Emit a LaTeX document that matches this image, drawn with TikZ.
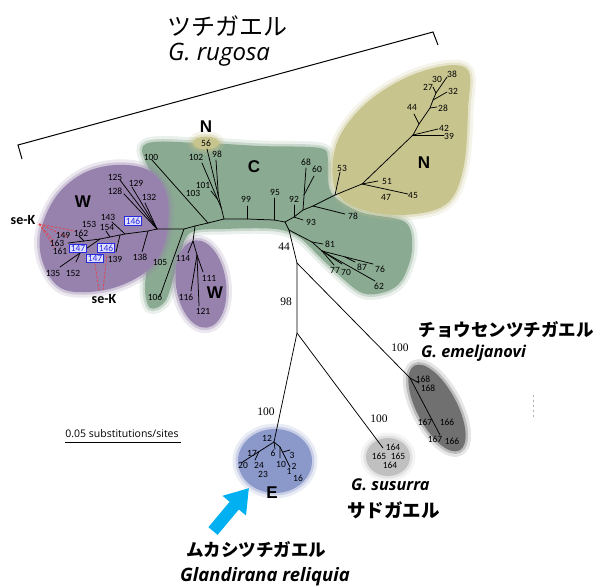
\documentclass[tikz,border=0pt]{standalone}
\usepackage{fontspec}
\setmainfont{Carlito}
\newfontfamily\jp{Noto Sans CJK JP}
\newfontfamily\sern{Liberation Serif}
\newfontfamily\arb{Liberation Sans}
\newfontfamily\ops{Open Sans}
\usetikzlibrary{arrows.meta}
\definecolor{cgreen}{RGB}{138,170,146}
\definecolor{cpurple}{RGB}{150,130,172}
\definecolor{ckhaki}{RGB}{200,196,142}
\definecolor{cblue}{RGB}{138,152,202}
\definecolor{cdark}{RGB}{112,112,112}
\definecolor{clight}{RGB}{192,192,192}
\definecolor{cboxb}{RGB}{40,40,220}
\definecolor{cred}{RGB}{225,70,80}
\definecolor{ccyan}{RGB}{0,176,240}
\tikzset{
  br/.style={line width=0.75pt, black, line cap=round},
  lf/.style={font=\fontsize{9.5}{9.5}\selectfont, inner sep=0pt},
  bs/.style={font=\sern\fontsize{11.5}{12}\selectfont, inner sep=0pt},
  cl/.style={font=\arb\bfseries\fontsize{17}{17}\selectfont, inner sep=0pt},
  bx/.style={lf, draw=cboxb, text=cboxb, fill=white!88!blue, inner sep=1pt, line width=0.6pt},
  sek/.style={cred, dash pattern=on 2.5pt off 1.5pt, line width=0.8pt},
  blob/.style={fill=#1, preaction={draw=#1, draw opacity=0.18, line width=11pt, line join=round},
               preaction={draw=#1, draw opacity=0.35, line width=5pt, line join=round}},
  jpl/.style={font=\jp\bfseries\fontsize{17.5}{18}\selectfont, inner sep=0pt},
  spl/.style={font=\ops\bfseries\itshape\fontsize{16.3}{17}\selectfont, inner sep=0pt},
}
\begin{document}
\begin{tikzpicture}[x=1pt,y=-1pt]
\useasboundingbox (0,0) rectangle (601,586);
% ---------- blobs ----------
\path[blob=cgreen] plot[smooth cycle, tension=0.55] coordinates {
 (143,146) (200,143) (260,146) (320,148) (328,160) (331,192) (360,212) (405,222)
 (412,250) (402,280) (385,292) (360,292) (325,262) (300,238) (275,229) (225,229)
 (190,233) (178,262) (166,300) (150,308) (145,285) (152,240) (160,195)};
\path[blob=cpurple] plot[smooth cycle, tension=0.6] coordinates {
 (45,268) (40,235) (55,198) (82,174) (115,165) (148,170) (166,192) (168,225)
 (160,255) (140,276) (105,290) (65,290)};
\path[blob=cpurple, rotate around={8:(201,284)}] (201,284) ellipse [x radius=25, y radius=44];
\path[blob=ckhaki] plot[smooth cycle, tension=0.6] coordinates {
 (466,68) (468,110) (463,170) (445,205) (400,215) (355,207) (334,185) (338,140)
 (370,100) (420,72)};
\path[blob=ckhaki] (206,143) ellipse [x radius=13, y radius=6.5];
\path[blob=cblue] (275,461) ellipse [x radius=37, y radius=32];
\path[blob=cdark, rotate around={-62:(437,408)}] (437,408) ellipse [x radius=48, y radius=20];
\path[blob=clight] (388,457) ellipse [x radius=22, y radius=19];
% ---------- bracket ----------
\coordinate (bl) at (22,159); \coordinate (blc) at (18,145);
\coordinate (brc) at (433,32); \coordinate (br2) at (438,45);
\draw[line width=1pt] (bl) -- (blc) -- (brc) -- (br2);
% ---------- tree coordinates ----------
\coordinate (A0) at (285,222);
\coordinate (n92) at (294,217); \coordinate (t92) at (294,205); \coordinate (t93) at (303,220);
\coordinate (nR) at (303,210); \coordinate (t68) at (306,168);
\coordinate (n60) at (304,195); \coordinate (t60) at (314,176);
\coordinate (n78) at (313,206); \coordinate (t78) at (345,214);
\coordinate (nN0) at (335,195); \coordinate (t53) at (340,172);
\coordinate (nN1) at (362,184); \coordinate (t51) at (378,181); \coordinate (t45) at (408,194);
\coordinate (nN2) at (413,135); \coordinate (t42) at (438,129); \coordinate (t39) at (444,135);
\coordinate (nN3) at (419,124); \coordinate (t44) at (414,114);
\coordinate (nN4) at (430,108); \coordinate (t28) at (437,107);
\coordinate (nN5) at (433,100); \coordinate (t32) at (447,92);
\coordinate (nN6) at (436,93); \coordinate (t38) at (447,77); \coordinate (t27) at (433,87);
\coordinate (nD) at (289,230); \coordinate (n44) at (297,263); \coordinate (n98) at (297,333);
\coordinate (nE) at (274,442);
\coordinate (nEm) at (410,378); \coordinate (tEm) at (440,435); \coordinate (tEm2) at (419,383);
\coordinate (tS) at (383,448);
\coordinate (n81) at (312,242); \coordinate (t81) at (323,244); \coordinate (n81b) at (322,251);
\coordinate (t62) at (375,281); \coordinate (t76) at (373,264); \coordinate (t77) at (334,265);
\coordinate (t70) at (342,264); \coordinate (n87) at (345,257); \coordinate (t87) at (355,262);
\coordinate (t20) at (241,463); \coordinate (n24) at (259,451.5); \coordinate (t24) at (255,460);
\coordinate (t6) at (275,449); \coordinate (n10) at (280,447); \coordinate (t10) at (280,458);
\coordinate (t1) at (290,467); \coordinate (n3) at (283,452); \coordinate (t3) at (290,450);
\coordinate (n95) at (274,220); \coordinate (t95) at (274,198);
\coordinate (n99) at (247,219); \coordinate (t99) at (247,206);
\coordinate (nC1) at (224,219); \coordinate (t56) at (207,149);
\coordinate (n102) at (221.3,208); \coordinate (t102) at (202,163);
\coordinate (n98c) at (218.4,196); \coordinate (t98) at (216,160);
\coordinate (n101) at (217.4,199); \coordinate (t101) at (211,191);
\coordinate (nC2) at (208,223); \coordinate (t100) at (152,160);
\coordinate (nC3) at (195,226); \coordinate (n114a) at (193,241); \coordinate (n114) at (197,255);
\coordinate (t121) at (199,306); \coordinate (t116) at (191,291); \coordinate (t111) at (203,272);
\coordinate (t114) at (188,253);
\coordinate (nC4) at (184,229); \coordinate (t106) at (160,296);
\coordinate (nW0) at (157,229); \coordinate (t125) at (120,180); \coordinate (t128) at (124,194);
\coordinate (t129) at (132,187); \coordinate (t132) at (145,203);
\coordinate (nW1) at (148,231); \coordinate (t138) at (142,252);
\coordinate (nW2) at (125,234); \coordinate (t143) at (112,222);
\coordinate (nW3) at (120,235); \coordinate (t139) at (116,252);
\coordinate (nW4) at (110,237); \coordinate (t154) at (106,231);
\coordinate (nW5) at (100,239); \coordinate (t135) at (60,267);
\coordinate (n152) at (80,253); \coordinate (t152) at (76,262);
\coordinate (n162) at (84,241); \coordinate (t162) at (79,236);
\coordinate (nW6) at (68,243);
% ---------- tree branches ----------
\draw[br] (A0) -- (n92) -- (nR) -- (n78) -- (nN0) -- (nN1) -- (nN2) -- (nN3) -- (nN4) -- (nN5) -- (nN6) -- (t38);
\draw[br] (n92) -- (t92); \draw[br] (n92) -- (t93); \draw[br] (nR) -- (t68); \draw[br] (n60) -- (t60);
\draw[br] (n78) -- (t78); \draw[br] (nN0) -- (t53); \draw[br] (nN1) -- (t51); \draw[br] (nN1) -- (t45);
\draw[br] (nN2) -- (t42); \draw[br] (nN2) -- (t39); \draw[br] (nN3) -- (t44); \draw[br] (nN4) -- (t28);
\draw[br] (nN5) -- (t32); \draw[br] (nN6) -- (t27);
\draw[br] (A0) -- (nD) -- (n44) -- (n98) -- (nE);
\draw[br] (n44) -- (nEm) -- (tEm); \draw[br] (nEm) -- (tEm2);
\draw[br] (n98) -- (tS);
\draw[br] (nD) -- (n81) -- (n81b) -- (t62); \draw[br] (n81) -- (t81);
\draw[br] (n81b) -- (t76); \draw[br] (n81b) -- (t77); \draw[br] (n81b) -- (t70); \draw[br] (n87) -- (t87);
\draw[br] (nE) -- (t20); \draw[br] (n24) -- (t24); \draw[br] (nE) -- (t6);
\draw[br] (nE) -- (n10) -- (t10); \draw[br] (n10) -- (t1); \draw[br] (n3) -- (t3);
\draw[br] (A0) -- (n95) -- (n99) -- (nC1) -- (nC2) -- (nC3) -- (nC4) -- (nW0) -- (nW1) -- (nW2) -- (nW3) -- (nW4) -- (nW5) -- (nW6);
\draw[br] (n95) -- (t95); \draw[br] (n99) -- (t99);
\draw[br] (nC1) -- (t56); \draw[br] (n102) -- (t102); \draw[br] (n98c) -- (t98); \draw[br] (n101) -- (t101);
\draw[br] (nC2) -- (t100);
\draw[br] (nC3) -- (n114a) -- (n114) -- (t121); \draw[br] (n114) -- (t116); \draw[br] (n114) -- (t111); \draw[br] (n114a) -- (t114);
\draw[br] (nC4) -- (t106);
\draw[br] (nW0) -- (t125); \draw[br] (nW0) -- (t128); \draw[br] (nW0) -- (t129); \draw[br] (nW0) -- (t132);
\draw[br] (nW1) -- (t138); \draw[br] (nW2) -- (t143); \draw[br] (nW3) -- (t139); \draw[br] (nW4) -- (t154);
\draw[br] (nW5) -- (t135); \draw[br] (n152) -- (t152); \draw[br] (n162) -- (t162);
% ---------- se-K ----------
\node[font=\bfseries\fontsize{14}{14}\selectfont, inner sep=0pt] (sekA) at (23,220) {se-K};
\node[font=\bfseries\fontsize{14}{14}\selectfont, inner sep=0pt] (sekB) at (104,299) {se-K};
\coordinate (sa) at (39,224);
\coordinate (sa1) at (75,231); \coordinate (sa2) at (68,237); \coordinate (sa3) at (53,240); \coordinate (sa4) at (55,248);
\draw[sek] (sa) -- (sa1);
\draw[sek] (sa) -- (sa2);
\draw[sek] (sa) -- (sa3);
\draw[sek] (sa) -- (sa4);
\coordinate (sb1) at (99,290); \coordinate (sb2) at (103,290);
\coordinate (sb3) at (95,264); \coordinate (sb4) at (107,254);
\draw[sek] (sb1) -- (sb3);
\draw[sek] (sb2) -- (sb4);
% ---------- leaf labels ----------
\foreach \p/\s in {(115,177)/125,(136,183)/129,(115,191)/128,(149,197)/132,(108,217)/143,(89,224)/153,
  (107,227)/154,(63,235)/149,(81,233)/162,(57,243)/163,(60,251)/161,(115,259)/139,(53,273)/135,
  (73,273)/152,(140,257)/138,(160,262)/105,(155,297)/106,(183,258)/114,(209,278)/111,(186,297)/116,
  (203,311)/121,(151,157)/100,(193,193)/103,(196,157)/102,(217,154)/98,(203,185)/101,(206,143)/56,
  (246,199)/99,(275,192)/95,(294,199)/92,(311,222)/93,(306,162)/68,(317,169)/60,(353,216)/78,
  (330,244)/81,(362,267)/87,(380,269)/76,(335,270)/77,(346,272)/70,(379,286)/62,
  (342,168)/53,(387,181)/51,(386,197)/47,(413,195)/45,(444,128)/42,(449,136)/39,(412,107)/44,
  (443,108)/28,(453,91)/32,(428,87)/27,(437,79)/30,(452,74)/38,
  (267,438)/12,(252,453)/17,(243,465)/20,(259,465)/24,(263,474)/23,(273,453)/6,(281,464)/10,
  (289,471)/1,(292,455)/3,(294,466)/2,(298,478)/16,
  (423,379)/168,(428,388)/168,(425,422)/167,(447,422)/166,(435,439)/167,(452,441)/166,
  (393,447)/164,(379,456)/165,(398,456)/165,(390,465)/164}
  \node[lf] at \p {\s};
\node[bx] (b146a) at (133,221) {146};
\node[bx] (b147a) at (78,248) {147};
\node[bx] (b146b) at (106,248) {146};
\node[bx] (b147b) at (95,258) {147};
% ---------- bootstrap ----------
\node[bs] (bs44) at (284,247) {44};
\node[bs] (bs98) at (286,302) {98};
\node[bs] (bs100a) at (400,348) {100};
\node[bs] (bs100b) at (379,419) {100};
\node[bs] (bs100c) at (266,412) {100};
% ---------- clade letters ----------
\node[cl] (lW) at (83,202) {W};
\node[cl] (lW2) at (215,293) {W};
\node[cl] (lC) at (254,167) {C};
\node[cl] (lN) at (206,127) {N};
\node[cl] (lN2) at (424,163) {N};
\node[cl] (lE) at (272,493) {E};
% ---------- scale bar ----------
\node[font=\ops\fontsize{10.5}{11}\selectfont, inner sep=0pt] (sc) at (122,434) {0.05 substitutions/sites};
\coordinate (sc1) at (65,442); \coordinate (sc2) at (181,442);
\draw[line width=1pt] (sc1) -- (sc2);
% ---------- faint mark ----------
\coordinate (fm1) at (533,395); \coordinate (fm2) at (533,417);
\draw[gray!60, dash pattern=on 2pt off 3pt, line width=0.6pt] (fm1) -- (fm2);
% ---------- species text ----------
\node[font=\jp\fontsize{24}{25}\selectfont, anchor=west, inner sep=0pt] (tR) at (167,26) {ツチガエル};
\node[font=\ops\itshape\fontsize{24}{25}\selectfont, anchor=west, inner sep=0pt] (tRl) at (168,55) {G. rugosa};
\node[jpl] (tEmj) at (506,330) {チョウセンツチガエル};
\node[spl, anchor=west] (tEml) at (421,353) {G. emeljanovi};
\node[spl, anchor=west] (tSl) at (351,485) {G. susurra};
\node[jpl, font=\jp\bfseries\fontsize{18.5}{19}\selectfont, anchor=west] (tSj) at (347,510) {サドガエル};
\node[jpl] (tGj) at (256,550) {ムカシツチガエル};
\node[font=\ops\bfseries\itshape\fontsize{18.5}{19}\selectfont, inner sep=0pt] (tGl) at (265,577) {Glandirana reliquia};
% ---------- arrow ----------
\coordinate (arT) at (213,531); \coordinate (arH) at (249,488);
\draw[ccyan, line width=12pt, -{Triangle[width=29pt,length=23pt]}] (arT) -- (arH);
\end{tikzpicture}
\end{document}
